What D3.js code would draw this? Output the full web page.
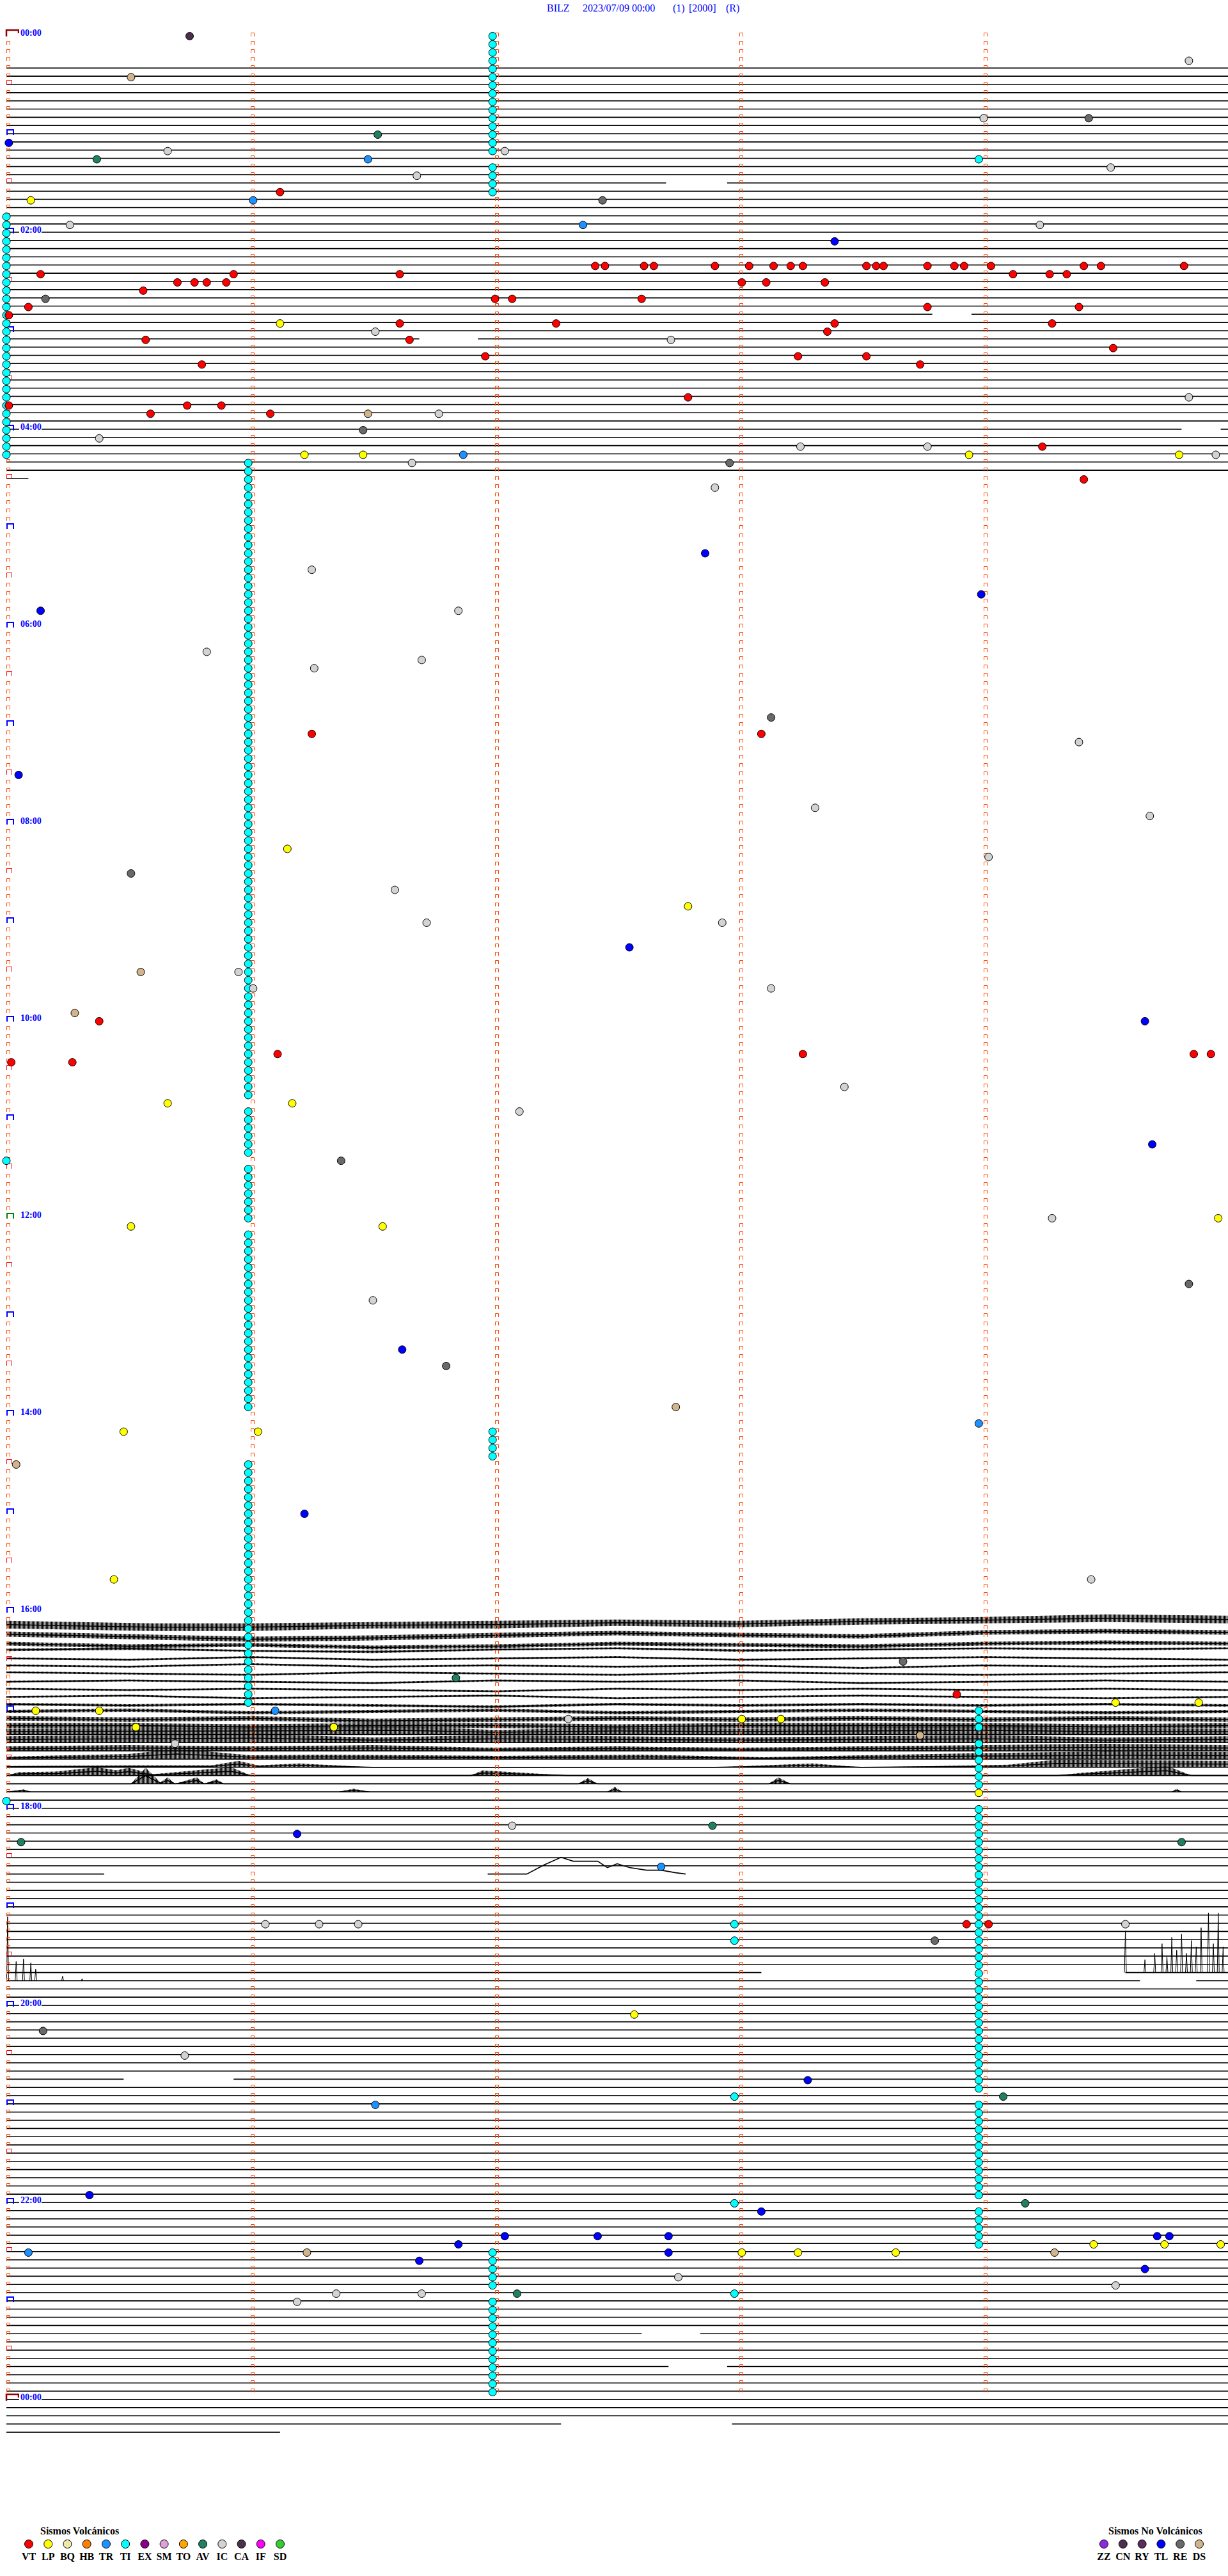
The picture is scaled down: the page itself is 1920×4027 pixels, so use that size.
<!DOCTYPE html>
<html><head><meta charset="utf-8">
<script src="https://cdn.jsdelivr.net/npm/d3@7/dist/d3.min.js"></script>
<style>body{margin:0;background:#fff}svg{display:block}</style>
</head><body><svg id="c" width="1920" height="4027"></svg>
<script>
// ---------------- DATA ----------------
const titleParts = ["BILZ", "2023/07/09 00:00", "(1)", "[2000]", "(R)"];
const hourLabels = ["00:00","02:00","04:00","06:00","08:00","10:00","12:00","14:00","16:00","18:00","20:00","22:00","00:00"];
const volcTypes  = ["VT","LP","BQ","HB","TR","TI","EX","SM","TO","AV","IC","CA","IF","SD"];
const volcColors = ["#ff0000","#ffff00","#eee8aa","#ff8000","#1e90ff","#00ffff","#8b008b","#dda0dd","#ffa500","#208060","#d3d3d3","#4b2f4b","#ff00ff","#32cd32"];
const nonVolcTypes  = ["ZZ","CN","RY","TL","RE","DS"];
const nonVolcColors = ["#8a2be2","#4b3050","#5a2d5a","#0000ff","#696969","#d2b48c"];

// events: [row (5-min line index from 00:00), minutes into the line]
const evVT = [[19,1.12],[28,2.41],[28,2.45],[28,2.61],[28,2.65],[28,2.90],[28,3.04],[28,3.14],[28,3.21],[28,3.26],[28,3.52],[28,3.56],[28,3.59],[28,3.77],[28,3.88],[28,3.92],[28,4.03],[28,4.41],[28,4.48],[28,4.82],
 [29,0.14],[29,0.93],[29,1.61],[29,4.12],[29,4.27],[29,4.34],[30,0.70],[30,0.77],[30,0.82],[30,0.90],[30,3.01],[30,3.11],[30,3.35],[31,0.56],
 [32,2.00],[32,2.07],[32,2.60],[33,0.09],[33,3.77],[33,4.39],[34,0.01],[35,1.61],[35,2.25],[35,3.39],[35,4.28],[36,3.36],[37,0.57],[37,1.65],
 [38,4.53],[39,1.96],[39,3.24],[39,3.52],[40,0.80],[40,3.74],[44,2.79],[45,0.01],[45,0.74],[45,0.88],[46,0.59],[46,1.08],[50,4.24],[54,4.41],
 [85,1.25],[85,3.09],[120,0.38],[124,1.11],[124,3.26],[124,4.86],[124,4.93],[125,0.02],[125,0.27],[202,3.89],[230,3.93],[230,4.02]];
const evLP = [[20,0.10],[35,1.12],[51,1.22],[51,1.46],[51,3.94],[51,4.80],[99,1.15],[106,2.79],[130,0.66],[130,1.17],[144,4.96],[145,0.51],[145,1.54],
 [170,0.48],[170,1.03],[188,0.44],[203,4.54],[203,4.88],[204,0.12],[204,0.38],[205,3.01],[205,3.17],[206,0.53],[206,1.34],[214,3.98],[241,2.57],
 [269,4.45],[269,4.74],[269,4.97],[270,3.01],[270,3.24],[270,3.64]];
const evTR = [[15,1.48],[20,1.01],[23,2.36],[51,1.87],[169,3.98],[204,1.10],[223,2.68],[252,1.51],[270,0.09]];
// TI events drawn in runs: [minutes into line, first row, last row]
const evTIruns = [[1.99,0,14],[1.99,16,19],[0.0,22,51],[0.99,52,129],[0.99,131,136],[0.99,138,144],[0.99,146,167],[1.99,170,173],[0.99,174,203],
 [3.98,204,206],[3.98,208,213],[3.98,216,250],[3.98,252,263],[3.98,265,269],[1.99,270,274],[1.99,276,287]];
const evTI = [[15,3.98],[137,0.0],[215,0.0],[230,2.98],[232,2.98],[251,2.98],[264,2.98],[275,2.98]];
const evAV = [[12,1.52],[15,0.37],[200,1.84],[218,2.89],[220,0.06],[220,4.81],[251,4.08],[264,4.17],[275,2.09]];
const evIC = [[3,4.84],[10,4.00],[14,0.66],[14,2.04],[16,4.52],[17,1.68],[23,0.26],[23,4.23],[36,1.51],[37,2.72],[44,4.84],[46,1.77],[49,0.38],
 [50,3.25],[50,3.77],[51,4.95],[52,1.66],[55,2.90],[65,1.25],[70,1.85],[75,0.82],[76,1.70],[77,1.26],[86,4.39],[94,3.31],[95,4.68],[100,4.02],
 [104,1.59],[108,1.72],[108,2.93],[114,0.95],[116,1.01],[116,3.13],[128,3.43],[131,2.10],[144,4.28],[154,1.50],[188,4.44],[205,2.30],[208,0.69],
 [218,2.07],[230,1.06],[230,1.28],[230,1.44],[230,4.58],[246,0.73],[273,2.75],[274,4.54],[275,1.35],[275,1.70],[276,1.19]];
const evCA = [[0,0.75]];
const evRE = [[10,4.43],[20,2.44],[32,0.16],[48,1.46],[52,2.96],[83,3.13],[102,0.51],[137,1.37],[152,4.84],[162,1.80],[198,3.67],[232,3.80],[243,0.15]];
const evTL = [[13,0.01],[25,3.39],[63,2.86],[68,3.99],[70,0.14],[90,0.05],[111,2.55],[120,4.66],[135,4.69],[160,1.62],[180,1.22],[219,1.19],
 [249,3.28],[263,0.34],[265,3.09],[268,2.04],[268,2.42],[268,2.71],[268,4.71],[268,4.76],[269,1.85],[270,2.71],[271,1.69],[272,4.66]];
const evDS = [[5,0.51],[46,1.48],[114,0.55],[119,0.28],[167,2.74],[174,0.04],[207,3.74],[270,1.23],[270,4.29]];

// rows that carry a flat trace: [first row, last row]
const flatRowRuns = [[4,53],[215,290]];
// partial lines: [row, start minute, end minute]
const partialLines = [[54,0,0.09],[291,0,2.27],[291,2.97,5],[292,0,1.12],[224,0,0.40],[236,0,3.09],[236,4.58,5],[237,0,4.64],[237,4.87,5]];
// data gaps in otherwise full lines: [row, from, to]
const lineGaps = [[18,2.70,2.95],[34,3.79,3.95],[37,1.69,1.93],[48,4.81,4.97],[249,0.48,0.93],[280,2.60,2.84],[284,2.71,2.95]];
// small signal in row 224: [minute, offset up]
const row224Signal = [[1.97,0],[2.13,0],[2.20,14],[2.27,26],[2.32,20],[2.42,20],[2.46,10],[2.50,16],[2.55,10],[2.62,6],[2.68,6],[2.74,2],[2.78,0]];
// spikes: [row, minute, height]
const spikes = [[237,0.005,100],[237,0.04,30],[237,0.07,34],[237,0.10,28],[237,0.12,18],[237,0.23,7],[237,0.31,3],
 [236,4.58,65],[236,4.66,20],[236,4.70,30],[236,4.73,45],[236,4.75,25],[236,4.77,55],[236,4.79,35],[236,4.81,60],[236,4.83,30],[236,4.85,50],
 [236,4.87,40],[236,4.89,70],[236,4.92,93],[236,4.94,45],[236,4.96,93],[236,4.98,40]];
// seismic traces 16:05-17:50: row -> [minute, top offset, bottom offset] (px, +down)
const traceRows = [193,194,195,196,197,198,199,200,201,202,203,204,205,206,207,208,209,210,211,212,213,214];
const traceBands = [
 [[0,2,14],[0.3,4,16],[0.6,6,18],[1,6,18],[1.5,4,14],[2,2,14],[2.5,0,10],[3,2,12],[3.5,-2,8],[4,-4,6],[4.5,-8,4],[5,-6,6]],
 [[0,6,14],[0.5,10,18],[1,14,22],[1.5,12,20],[2,8,16],[2.5,5,12],[3,8,15],[3.5,10,17],[4,4,11],[4.5,2,9],[5,4,11]],
 [[0,9,15],[0.5,13,19],[1,11,17],[1.5,15,21],[2,13,19],[2.5,9,15],[3,11,17],[3.5,13,19],[4,9,15],[4.5,7,13],[5,9,15]],
 [[0,7,11],[0.5,5,9],[1,9,12],[1.5,10,14],[2,7,10],[2.5,5,8],[3,8,12],[3.5,7,10],[4,5,8],[4.5,6,10],[5,5,8]],
 [[0,8,11],[0.5,10,13],[1,6,9],[1.5,10,13],[2,8,11],[2.5,6,9],[3,10,13],[3.5,8,11],[4,6,9],[4.5,8,11],[5,10,13]],
 [[0,6,9],[0.5,8,11],[1,4,7],[1.5,8,11],[2,6,9],[2.5,8,11],[3,6,9],[3.5,10,13],[4,6,9],[4.5,8,11],[5,6,9]],
 [[0,4,7],[0.5,6,9],[1,8,11],[1.5,4,7],[2,6,9],[2.5,8,11],[3,4,7],[3.5,6,9],[4,8,11],[4.5,6,9],[5,4,7]],
 [[0,6,9],[0.5,4,7],[1,6,9],[1.5,8,11],[2,4,7],[2.5,6,9],[3,4,7],[3.5,8,11],[4,6,9],[4.5,4,7],[5,6,9]],
 [[0,4,7],[0.5,6,9],[1,4,7],[1.5,6,9],[2,8,11],[2.5,4,7],[3,6,9],[3.5,4,7],[4,6,9],[4.5,4,7],[5,6,9]],
 [[0,4,7],[0.5,2,5],[1,6,9],[1.5,4,7],[2,2,5],[2.5,6,9],[3,4,7],[3.5,2,5],[4,4,7],[4.5,6,9],[5,4,7]],
 [[0,2,6],[0.5,4,8],[1,2,6],[1.5,4,8],[2,6,10],[2.5,2,6],[3,4,8],[3.5,2,6],[4,4,8],[4.5,2,6],[5,4,8]],
 [[0,0,5],[0.5,-2,3],[1,2,7],[1.5,0,5],[2,-2,3],[2.5,2,7],[3,0,5],[3.5,-2,3],[4,0,5],[4.5,2,7],[5,0,5]],
 [[0,-3,4],[0.5,-1,6],[1,-3,4],[1.5,1,8],[2,-1,6],[2.5,-3,4],[3,-1,6],[3.5,-3,4],[4,-1,6],[4.5,-3,4],[5,-1,6]],
 [[0,-5,3],[0.5,-5,3],[1,-3,5],[1.5,-5,3],[2,-5,3],[2.5,-3,5],[3,-5,3],[3.5,-5,3],[4,-5,3],[4.5,-3,5],[5,-5,3]],
 [[0,-9,0],[1,-11,0],[1.6,-13,0],[2,-7,0],[2.5,-11,0],[3,-9,0],[3.5,-11,0],[4,-13,0],[4.5,-9,0],[5,-9,0]],
 [[0,-10,0],[0.5,-12,0],[1,-14,0],[1.5,-8,0],[2,-12,0],[2.5,-10,0],[3,-8,0],[3.5,-10,0],[4,-12,0],[4.5,-8,0],[5,-10,0]],
 [[0,-7,0],[0.5,-9,0],[1,-7,0],[1.5,-9,0],[2,-5,0],[2.5,-7,0],[3,-5,0],[3.5,-7,0],[4,-9,0],[4.5,-11,0],[5,-9,0]],
 [[0,-4,0],[0.5,-8,0],[0.7,-16,0],[1,-6,0],[1.3,-7,0],[2,-5,0],[2.6,-7,0],[3.1,-3,0],[4.1,-10,0],[4.5,-12,0],[5,-11,0]],
 [[0,-2,0],[0.5,-3,0],[0.84,-3,0],[0.95,-10,0],[1.03,-3,0],[1.2,-6,0],[1.5,0,0],[2.9,0,0],[3.3,-6,0],[3.5,0,0],[4.1,-4,0],[4.3,-12,0],[5,-10,0]],
 [[0,0,0],[0.05,-5,0],[0.2,-6,0],[0.3,-10,0],[0.37,-13,0],[0.45,-8,0],[0.5,-12,0],[0.6,-2,0],[0.92,-13,0],[1.0,0,0],[1.9,0,0],[1.95,-8,0],[2.3,0,0],[4.3,0,0],[4.4,-4,0],[4.75,-15,0],[4.85,0,0],[5,0,0]],
 [[0,0,0],[0.51,0,0],[0.57,-25,0],[0.63,-2,0],[0.66,-10,0],[0.69,0,0],[0.78,-10,0],[0.81,0,0],[0.86,-7,0],[0.89,0,0],[2.34,0,0],[2.38,-9,0],[2.42,0,0],[3.12,0,0],[3.16,-10,0],[3.21,0,0],[5,0,0]],
 [[0,0,0],[0.07,-4,0],[0.1,0,0],[1.36,0,0],[1.42,-5,0],[1.49,0,0],[2.46,0,0],[2.49,-8,0],[2.52,0,0],[4.77,0,0],[4.79,-5,0],[4.81,0,0],[5,0,0]]
];

// ---------------- DRAW ----------------
const svg = d3.select("#c");
const x = d3.scaleLinear().domain([0, 5]).range([10, 1920]);
const y = d3.scaleLinear().domain([0, 288]).range([55, 55 + 288 * 12.833]);
const font = "Liberation Serif, Times New Roman, serif";

// hatch pattern for dense seismic noise
const defs = svg.append("defs");
const pat = defs.append("pattern").attr("id", "noise").attr("width", 2).attr("height", 6).attr("patternUnits", "userSpaceOnUse");
pat.append("rect").attr("width", 1.3).attr("height", 6).attr("fill", "#000");

// title
const title = svg.append("text").attr("y", 18).attr("font-family", font).attr("font-size", 16).attr("fill", "#0000ff");
const titleX = [855, 911, 1052, 1077, 1135];
titleParts.forEach((t, i) => title.append("tspan").attr("x", titleX[i]).text(t));

const gLines = svg.append("g").attr("stroke", "#000").attr("stroke-width", 1.6).attr("fill", "none");
const fullRows = [];
flatRowRuns.forEach(([a, b]) => { for (let r = a; r <= b; r++) fullRows.push(r); });
const specialRows = new Set(partialLines.map(d => d[0]));
fullRows.filter(r => !specialRows.has(r)).forEach(r => {
  const gaps = lineGaps.filter(g => g[0] === r).sort((a, b) => a[1] - b[1]);
  let s = 0;
  gaps.forEach(g => { gLines.append("line").attr("x1", x(s)).attr("x2", x(g[1])).attr("y1", y(r)).attr("y2", y(r)); s = g[2]; });
  gLines.append("line").attr("x1", x(s)).attr("x2", x(5)).attr("y1", y(r)).attr("y2", y(r));
});
partialLines.forEach(([r, a, b]) => {
  gLines.append("line").attr("x1", x(a)).attr("x2", x(b)).attr("y1", y(r)).attr("y2", y(r));
});
gLines.append("path").attr("d", d3.line().x(d => x(d[0])).y(d => y(224) - d[1])(row224Signal));
spikes.forEach(([r, m, h]) => {
  const cx = x(m);
  gLines.append("path").attr("stroke-width", 1).attr("d", `M${cx - 1.5},${y(r)}L${cx},${y(r) - h}L${cx + 1.5},${y(r)}`);
});
// traces
const gTr = svg.append("g");
traceRows.forEach((r, i) => {
  const pts = traceBands[i];
  const area = d3.area().x(d => x(d[0])).y0(d => y(r) + d[1]).y1(d => y(r) + d[2]);
  gTr.append("path").attr("d", area(pts)).attr("fill", "url(#noise)").attr("stroke", "none");
  gTr.append("path").attr("d", d3.line().x(d => x(d[0])).y(d => y(r) + (d[1] + d[2]) / 2)(pts))
    .attr("fill", "none").attr("stroke", "#000").attr("stroke-width", 1.6);
  if (i >= 14) gTr.append("line").attr("x1", x(0)).attr("x2", x(5)).attr("y1", y(r)).attr("y2", y(r)).attr("stroke", "#000").attr("stroke-width", 1.6);
});

// minute markers
const gM = svg.append("g").attr("fill", "none");
for (let r = 0; r < 288; r++) {
  const L = Math.round(y(r));
  for (let k = 0; k < 5; k++) {
    const x0 = Math.round(x(k));
    if (k === 0 && r % 12 === 0) continue;
    if (k === 0 && r % 6 === 0) {
      gM.append("path").attr("d", `M${x0 + 0.5},${L + 1}V${L - 6.5}H${x0 + 8.5}V${L + 1}`).attr("stroke", "#ff0000").attr("stroke-width", 1);
      continue;
    }
    gM.append("path").attr("d", `M${x0 + 0.5},${L + 2}V${L - 3.5}H${x0 + 5.5}V${L + 2}`).attr("stroke", "#ff4500").attr("stroke-width", 1);
  }
  if (r % 12 === 0 && r !== 0) {
    gM.append("path").attr("d", `M${x(0) + 1},${L + 2}V${L - 6}H${x(0) + 11}V${L + 2}`)
      .attr("stroke", r === 144 ? "#008000" : "#0000ff").attr("stroke-width", 2);
  }
}
[0, 288].forEach(r => {
  const L = Math.round(y(r));
  gM.append("path").attr("d", `M${x(0)},${L + 2}V${L - 8}H${x(0) + 19}V${L - 3}`).attr("stroke", "#8b0000").attr("stroke-width", 2.5);
});

// hour labels
const gL = svg.append("g");
hourLabels.forEach((t, i) => {
  const L = y(i * 24);
  gL.append("rect").attr("x", 30).attr("y", L - 10).attr("width", 35).attr("height", 12).attr("fill", "#fff");
  gL.append("text").attr("x", 32).attr("y", L + 1).attr("font-family", font)
    .attr("font-weight", "bold").attr("font-size", 14).attr("fill", "#0000ff").text(t);
});

// events
const colorOf = t => { let i = volcTypes.indexOf(t); if (i >= 0) return volcColors[i]; return nonVolcColors[nonVolcTypes.indexOf(t)]; };
const events = [];
const addEv = (arr, t) => arr.forEach(([r, m]) => events.push({ r, m, t }));
evTIruns.forEach(([m, a, b]) => { for (let r = a; r <= b; r++) events.push({ r, m, t: "TI" }); });
addEv(evTI, "TI"); addEv(evIC, "IC"); addEv(evRE, "RE"); addEv(evDS, "DS"); addEv(evAV, "AV"); addEv(evCA, "CA");
addEv(evTR, "TR"); addEv(evLP, "LP"); addEv(evTL, "TL"); addEv(evVT, "VT");
svg.append("g").selectAll("circle").data(events).join("circle")
  .attr("cx", d => Math.max(6, x(d.m))).attr("cy", d => y(d.r) + 1.5).attr("r", 6)
  .attr("fill", d => colorOf(d.t)).attr("stroke", "#000").attr("stroke-width", 1);

// legends
const lv = d3.scaleLinear().domain([0, volcTypes.length - 1]).range([45, 438]);
const ln = d3.scaleLinear().domain([0, nonVolcTypes.length - 1]).range([1726, 1875]);
svg.append("text").attr("x", 63).attr("y", 3962).attr("font-family", font).attr("font-weight", "bold").attr("font-size", 16).text("Sismos Volcánicos");
svg.append("text").attr("x", 1733).attr("y", 3962).attr("font-family", font).attr("font-weight", "bold").attr("font-size", 16).text("Sismos No Volcánicos");
const legend = (types, colors, sc) => {
  const g = svg.append("g");
  types.forEach((t, i) => {
    g.append("circle").attr("cx", sc(i)).attr("cy", 3977).attr("r", 6.5).attr("fill", colors[i]).attr("stroke", "#000").attr("stroke-width", 1);
    g.append("text").attr("x", sc(i)).attr("y", 4002).attr("text-anchor", "middle").attr("font-family", font)
      .attr("font-weight", "bold").attr("font-size", 16).text(t);
  });
};
legend(volcTypes, volcColors, lv);
legend(nonVolcTypes, nonVolcColors, ln);
</script></body></html>
